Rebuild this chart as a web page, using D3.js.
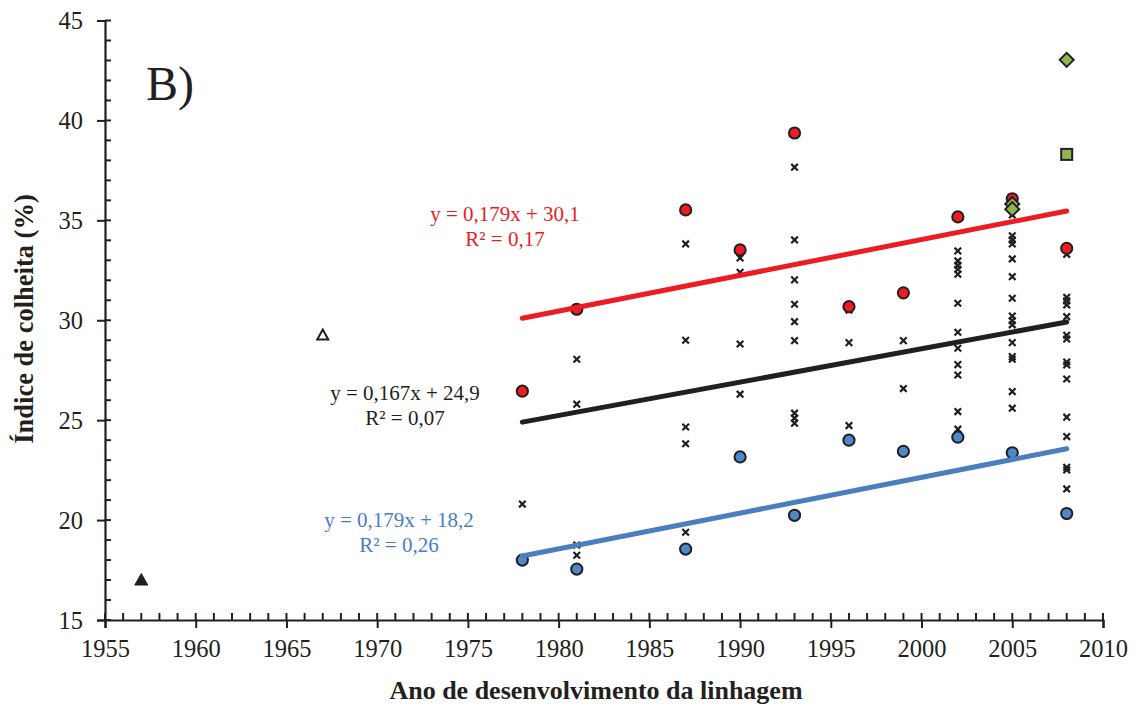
<!DOCTYPE html>
<html>
<head>
<meta charset="utf-8">
<script src="https://cdn.jsdelivr.net/npm/d3@7"></script>
<style>
  html, body { margin: 0; padding: 0; background: #fff; }
  svg { display: block; }
  text { font-family: "Liberation Serif", "Times New Roman", serif; fill: #231f20; }
</style>
</head>
<body>
<svg id="chart" width="1143" height="709"></svg>
<script>
// Years in which the lines were released
const releaseYears = [1978, 1981, 1987, 1990, 1993, 1996, 1999, 2002, 2005, 2008];

// Highest and lowest harvest index per release year
const maxIndex = [26.45, 30.55, 35.52, 33.52, 39.37, 30.68, 31.37, 35.17, 36.08, 33.6];
const minIndex = [18.0, 17.55, 18.55, 23.16, 20.24, 24.0, 23.44, 24.15, 23.37, 20.33];

// Individual line values per release year
const lineValues = [
  [20.8],
  [28.05, 25.8, 18.75, 18.24],
  [33.82, 29.0, 24.66, 23.82, 19.39],
  [33.12, 32.4, 28.81, 26.3],
  [37.66, 34.02, 32.02, 30.8, 29.93, 28.98, 25.35, 25.1, 24.85],
  [30.5, 28.88, 24.73],
  [28.98, 26.58],
  [33.47, 32.97, 32.75, 32.55, 32.3, 30.85, 29.4, 28.6, 27.78, 27.26, 25.43, 24.55],
  [35.27, 34.23, 34.02, 33.82, 33.07, 32.18, 31.1, 30.21, 29.98, 29.77, 28.88, 28.18, 28.05, 26.43, 25.6],
  [33.3, 31.15, 30.97, 30.77, 30.18, 29.25, 29.06, 27.91, 27.76, 27.06, 25.15, 24.18, 22.64, 22.51, 21.56]
];

// Highlighted cultivars
const diamondYears = [2005, 2005, 2008];
const diamondValues = [35.82, 35.56, 43.03];
const squareYears = [2008];
const squareValues = [38.3];
const oldFilledYears = [1957];
const oldFilledValues = [17.0];
const oldOpenYears = [1967];
const oldOpenValues = [29.26];

// Linear fits: y = slope * (year - 1978) + intercept
const fitNames = ["max", "mean", "min"];
const fitSlopes = [0.179, 0.167, 0.179];
const fitIntercepts = [30.1, 24.9, 18.2];
const fitR2 = ["0,17", "0,07", "0,26"];
const fitColors = ["#ed1c24", "#231f20", "#4a7ebf"];
const fitStart = 1978, fitEnd = 2008;

// Axis ticks
const xMajorTicks = [1955, 1960, 1965, 1970, 1975, 1980, 1985, 1990, 1995, 2000, 2005, 2010];
const yMajorTicks = [15, 20, 25, 30, 35, 40, 45];

const ink = "#231f20";
const svg = d3.select("#chart");

const x = d3.scaleLinear().domain([1955, 2010]).range([105, 1103]);
const y = d3.scaleLinear().domain([15, 45]).range([620, 20.5]);

// ---- axes ----
const xAxis = svg.append("g").attr("transform", `translate(0,${y(15)})`)
  .call(d3.axisBottom(x).tickValues(xMajorTicks).tickSize(8).tickPadding(6).tickFormat(d3.format("d")));
const yAxis = svg.append("g").attr("transform", `translate(${x(1955)},0)`)
  .call(d3.axisLeft(y).tickValues(yMajorTicks).tickSize(8).tickPadding(14).tickFormat(d3.format("d")));

[xAxis, yAxis].forEach(g => {
  g.select(".domain").attr("stroke", ink).attr("stroke-width", 2.2);
  g.selectAll(".tick line").attr("stroke", ink).attr("stroke-width", 2);
  g.selectAll(".tick text").attr("font-size", 24.5).attr("fill", ink)
    .style("font-family", '"Liberation Serif", "Times New Roman", serif');
});
xAxis.selectAll(".tick text").attr("dy", "0.95em");
yAxis.selectAll(".tick text").attr("dy", "0.34em");

// inner ticks (every year / every unit)
svg.append("g").selectAll("line").data(d3.range(1955, 2011)).join("line")
  .attr("x1", d => x(d)).attr("x2", d => x(d))
  .attr("y1", y(15)).attr("y2", y(15) - 7)
  .attr("stroke", ink).attr("stroke-width", 2);
svg.append("g").selectAll("line").data(d3.range(15, 46)).join("line")
  .attr("x1", x(1955)).attr("x2", x(1955) + 6)
  .attr("y1", d => y(d)).attr("y2", d => y(d))
  .attr("stroke", ink).attr("stroke-width", 2);

// axis titles
svg.append("text")
  .attr("x", 596).attr("y", 699)
  .attr("text-anchor", "middle").attr("font-size", 26).attr("font-weight", "bold")
  .text("Ano de desenvolvimento da linhagem");
svg.append("text")
  .attr("transform", "translate(33,319) rotate(-90)")
  .attr("text-anchor", "middle").attr("font-size", 26.5).attr("font-weight", "bold")
  .text("Índice de colheita (%)");

// panel letter
svg.append("text").attr("x", 146).attr("y", 100).attr("font-size", 48).text("B)");

// ---- points ----
const crossPts = lineValues.flatMap((vals, i) => vals.map(v => [releaseYears[i], v]));
svg.append("g").selectAll("path").data(crossPts).join("path")
  .attr("transform", d => `translate(${x(d[0])},${y(d[1])})`)
  .attr("d", "M-3.3,-3.3L3.3,3.3M-3.3,3.3L3.3,-3.3")
  .attr("stroke", ink).attr("stroke-width", 2.2).attr("fill", "none");

function circles(vals, fill) {
  svg.append("g").selectAll("circle").data(vals).join("circle")
    .attr("cx", (d, i) => x(releaseYears[i])).attr("cy", d => y(d))
    .attr("r", 5.6).attr("fill", fill).attr("stroke", ink).attr("stroke-width", 2);
}
circles(maxIndex, "#ed1c24");
circles(minIndex, "#4f88c8");

const triPath = "M0,-6.5L6.5,5L-6.5,5Z";
svg.append("g").selectAll("path").data(oldFilledValues).join("path")
  .attr("transform", (d, i) => `translate(${x(oldFilledYears[i])},${y(d)})`)
  .attr("d", triPath).attr("fill", ink).attr("stroke", ink).attr("stroke-width", 1);
svg.append("g").selectAll("path").data(oldOpenValues).join("path")
  .attr("transform", (d, i) => `translate(${x(oldOpenYears[i])},${y(d)})`)
  .attr("d", "M0,-5.5L5.5,4.5L-5.5,4.5Z").attr("fill", "#fff").attr("stroke", ink).attr("stroke-width", 2);

svg.append("g").selectAll("path").data(diamondValues).join("path")
  .attr("transform", (d, i) => `translate(${x(diamondYears[i])},${y(d)})`)
  .attr("d", "M0,-7L7,0L0,7L-7,0Z")
  .attr("fill", "#92b552").attr("stroke", ink).attr("stroke-width", 2);
svg.append("g").selectAll("rect").data(squareValues).join("rect")
  .attr("x", (d, i) => x(squareYears[i]) - 5.5).attr("y", d => y(d) - 5.5)
  .attr("width", 11).attr("height", 11)
  .attr("fill", "#92b552").attr("stroke", ink).attr("stroke-width", 2);

// ---- fitted lines ----
const fitLine = d3.line().x(d => x(d[0])).y(d => y(d[1]));
fitNames.forEach((name, k) => {
  const pts = [fitStart, fitEnd].map(yr => [yr, fitIntercepts[k] + fitSlopes[k] * (yr - fitStart)]);
  svg.append("path").datum(pts).attr("d", fitLine)
    .attr("fill", "none").attr("stroke", fitColors[k]).attr("stroke-width", 5)
    .attr("stroke-linecap", "round");
});

// equation labels
const fmt = v => String(v).replace(".", ",");
const labelPos = [[505, 221], [405, 400], [399, 527]];
fitNames.forEach((name, k) => {
  const t = svg.append("text").attr("text-anchor", "middle").attr("font-size", 21)
    .style("fill", fitColors[k]);
  t.append("tspan").attr("x", labelPos[k][0]).attr("y", labelPos[k][1])
    .text(`y = ${fmt(fitSlopes[k])}x + ${fmt(fitIntercepts[k])}`);
  t.append("tspan").attr("x", labelPos[k][0]).attr("y", labelPos[k][1] + 25)
    .text(`R² = ${fitR2[k]}`);
});
</script>
</body>
</html>
